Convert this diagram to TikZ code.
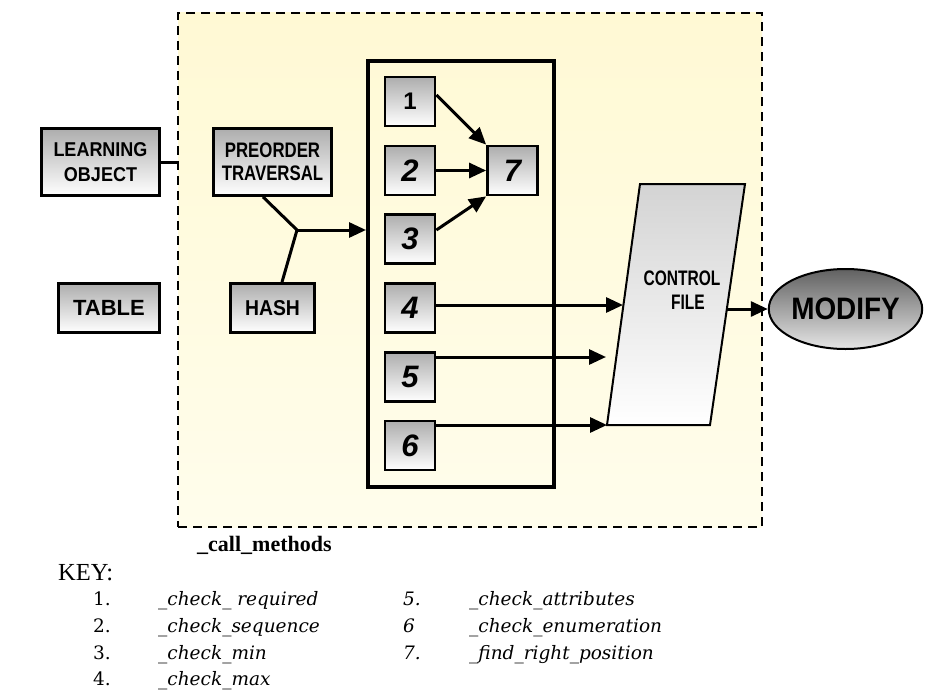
\documentclass[tikz,border=0pt]{standalone}
\usepackage{fontspec}
\setmainfont{Liberation Serif}
\setsansfont{Liberation Sans}
\newfontfamily\keyfont{DejaVu Serif}
\newfontfamily\csA[FakeStretch=0.9]{Liberation Sans}
\newfontfamily\csB[FakeStretch=0.8]{Liberation Sans}
\newfontfamily\csC[FakeStretch=0.74]{Liberation Sans}
\usetikzlibrary{arrows.meta,shapes.geometric}
\definecolor{yelTop}{RGB}{255,249,212}
\definecolor{yelBot}{RGB}{255,253,236}
\tikzset{
  gbox/.style={draw=black, line width=2.8pt, top color=black!32, bottom color=white,
    inner sep=0pt, align=center},
  numbox/.style={gbox, minimum width=50pt, minimum height=49pt,
    font=\sffamily\bfseries\itshape\fontsize{31}{31}\selectfont},
  conn/.style={line width=3pt},
  arr/.style={conn, -{Triangle[length=17pt,width=15pt]}},
  keyitem/.style={anchor=base west, inner sep=0pt, font=\keyfont\itshape\fontsize{18.5}{18.5}\selectfont},
  keynum/.style={anchor=base west, inner sep=0pt, font=\keyfont\fontsize{18.5}{18.5}\selectfont},
}
\begin{document}
\begin{tikzpicture}[x=1pt,y=-1pt]
\useasboundingbox (0,0) rectangle (925,698);
\fill[white] (0,0) rectangle (925,698);
% dashed frame
\node[draw=black, line width=2.4pt, dash pattern=on 9pt off 6pt,
      top color=yelTop, bottom color=yelBot, minimum width=584pt, minimum height=514pt,
      inner sep=0pt] (frame) at (470,270) {};
% left boxes
\node[gbox, minimum width=118pt, minimum height=67pt,
      font=\csA\bfseries\fontsize{20}{25}\selectfont] (lo) at (100.5,162) {LEARNING\\OBJECT};
\node[gbox, minimum width=101pt, minimum height=49pt,
      font=\sffamily\bfseries\fontsize{22}{22}\selectfont] (table) at (109,308) {TABLE};
\node[gbox, minimum width=118pt, minimum height=67pt,
      font=\csB\bfseries\fontsize{21}{23}\selectfont] (pre) at (272.5,162) {PREORDER\\TRAVERSAL};
\node[gbox, minimum width=84pt, minimum height=49pt,
      font=\csA\bfseries\fontsize{21.5}{21.5}\selectfont] (hash) at (272.5,308) {HASH};
% big box
\node[draw=black, line width=4pt, minimum width=186pt, minimum height=426pt, inner sep=0pt]
      (big) at (461,274) {};
% numbered boxes
\node[numbox, font=\sffamily\bfseries\fontsize{24}{24}\selectfont] (b1) at (410,101.5) {1};
\node[numbox] (b2) at (410,170.5) {2};
\node[numbox] (b3) at (410,239) {3};
\node[numbox] (b4) at (410,308) {4};
\node[numbox] (b5) at (410,377) {5};
\node[numbox] (b6) at (410,445.5) {6};
\node[numbox] (b7) at (512.5,170.5) {7};
% control file
\coordinate (cfA) at (640,184);
\coordinate (cfB) at (745,184);
\coordinate (cfC) at (710,425);
\coordinate (cfD) at (607,425);
\shade[top color=black!17, bottom color=white] (cfA) -- (cfB) -- (cfC) -- (cfD) -- cycle;
\draw[line width=2pt, line join=miter] (cfA) -- (cfB) -- (cfC) -- (cfD) -- cycle;
\node[inner sep=0pt, align=center, font=\csC\bfseries\fontsize{21}{24}\selectfont]
      (cf) at (682,290) {CONTROL\\\hspace*{12pt}FILE};
% modify
\node[ellipse, draw=black, line width=2pt, top color=black!62, bottom color=black!10,
      minimum width=133pt, minimum height=80pt, inner sep=0pt,
      font=\csA\bfseries\fontsize{31}{31}\selectfont] (mod) at (845.5,309) {MODIFY};
% connectors
\coordinate (j) at (297,230);
\coordinate (e4) at (623,305);
\coordinate (e5) at (606,357);
\coordinate (cfo) at (727,309);
\draw[conn] (lo.east) -- (lo.east -| frame.west);
\draw[conn] ([xshift=-9.5pt]pre.south) -- (j);
\draw[conn] ([xshift=9.5pt]hash.north) -- (j);
\draw[arr] (j) -- (j -| big.west);
\draw[arr] ([yshift=6.5pt]b1.east) -- (b7.north west);
\draw[arr] (b2.east) -- (b7.west);
\draw[arr] ([yshift=9pt]b3.east) -- (b7.south west);
\draw[arr] ([yshift=3pt]b4.east) -- (e4);
\draw[arr] ([yshift=20pt]b5.east) -- (e5);
\draw[arr] ([yshift=20.5pt]b6.east) -- (cfD);
\draw[arr] (cfo) -- (mod.west);
% key
\node[anchor=base west, inner sep=0pt, font=\bfseries\fontsize{22}{22}\selectfont]
      (cm) at (197,551) {\_call\_methods};
\node[anchor=base west, inner sep=0pt, font=\fontsize{24.5}{24.5}\selectfont]
      (key) at (58,580) {KEY:};
\node[keynum] (n1) at (93,605) {1.};
\node[keynum] (n2) at (93,632) {2.};
\node[keynum] (n3) at (93,659) {3.};
\node[keynum] (n4) at (93,685) {4.};
\node[keyitem] (k1) at (158,605) {\_check\_ required};
\node[keyitem] (k2) at (158,632) {\_check\_sequence};
\node[keyitem] (k3) at (158,659) {\_check\_min};
\node[keyitem] (k4) at (158,685) {\_check\_max};
\node[keyitem] (n5) at (403,605) {5.};
\node[keyitem] (n6) at (403,632) {6};
\node[keyitem] (n7) at (403,659) {7.};
\node[keyitem] (k5) at (469,605) {\_check\_attributes};
\node[keyitem] (k6) at (469,632) {\_check\_enumeration};
\node[keyitem] (k7) at (469,659) {\_find\_right\_position};
\end{tikzpicture}
\end{document}
